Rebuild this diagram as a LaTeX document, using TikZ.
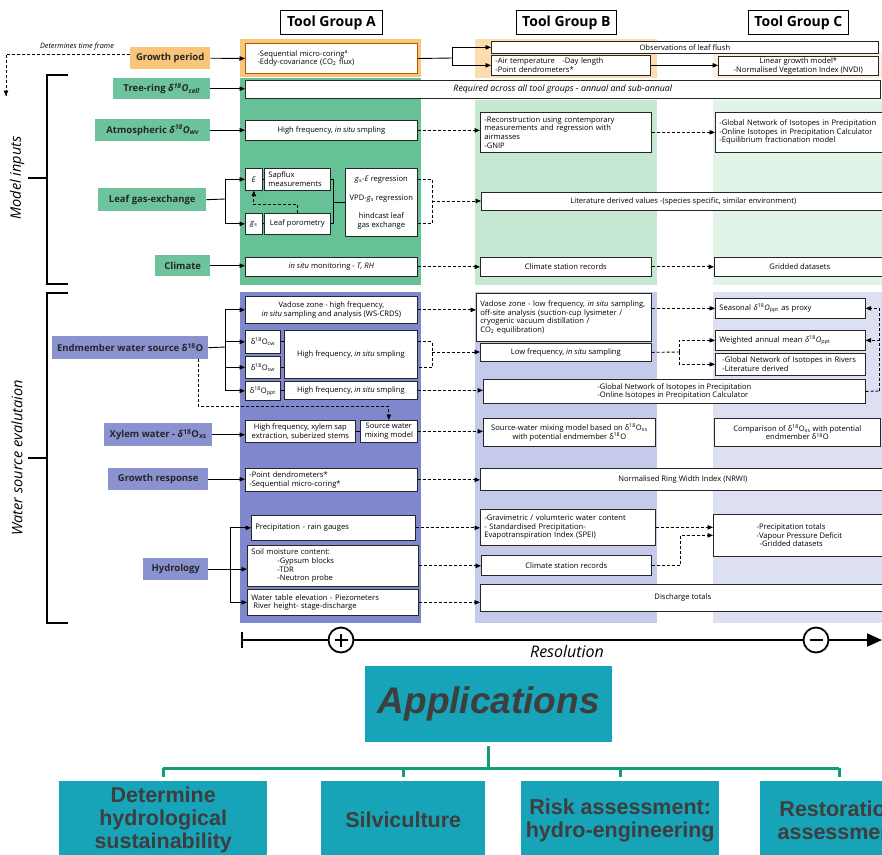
\documentclass[tikz,border=0pt]{standalone}
\usepackage{fontspec}
\setmainfont{Open Sans}
\newfontfamily\appfont{Liberation Sans}
\usetikzlibrary{arrows.meta}

\definecolor{orangeL}{HTML}{F8C57A}
\definecolor{orangeB}{HTML}{FBDDB0}
\definecolor{orangeC}{HTML}{FDEFD9}
\definecolor{greenL}{HTML}{6DC49C}
\definecolor{greenA}{HTML}{66C296}
\definecolor{greenB}{HTML}{C6E8D3}
\definecolor{greenC}{HTML}{E2F3E8}
\definecolor{blueL}{HTML}{8A92D0}
\definecolor{blueA}{HTML}{7F88CD}
\definecolor{blueB}{HTML}{C5CAEA}
\definecolor{blueC}{HTML}{DDE0F2}
\definecolor{appteal}{HTML}{17A3B8}
\definecolor{apptext}{HTML}{3E3E3E}
\definecolor{appgreen}{HTML}{12A072}

\tikzstyle{tbox} = [draw=black!85, line width=0.7pt, fill=white, rectangle, inner xsep=3pt, inner ysep=1pt, font=\fontsize{7.6}{8.6}\selectfont, align=center]
\tikzstyle{lbl} = [rectangle, inner xsep=3pt, inner ysep=1pt, text=black!85, font=\bfseries\fontsize{9.5}{11}\selectfont]
\tikzstyle{head} = [draw, line width=0.8pt, fill=white, rectangle, font=\bfseries\fontsize{14}{16}\selectfont]
\tikzstyle{side} = [rotate=90, font=\itshape\fontsize{14.5}{16}\selectfont]
\tikzstyle{ln} = [line width=0.9pt]
\tikzstyle{dln} = [line width=0.9pt, dash pattern=on 3pt off 2pt]
\tikzstyle{arr} = [line width=0.9pt, -{Triangle[length=5.5pt,width=4.5pt]}]
\tikzstyle{darr} = [arr, dash pattern=on 3pt off 2pt]
\tikzstyle{brk} = [line width=1.2pt]
\tikzstyle{axis} = [line width=2pt]
\tikzstyle{appbox} = [rectangle, fill=appteal, text=apptext, align=center, font=\appfont\bfseries\fontsize{21.5}{23}\selectfont]
\tikzstyle{conn} = [draw=appgreen, line width=3pt]

% box from its corners: [style]{name}{x1}{y1}{x2}{y2}{text}
\newcommand{\bx}[7][tbox]{\node[#1, anchor=north west, minimum width={(#5-#3)*1pt}, minimum height={(#6-#4)*1pt}] (#2) at (#3,#4) {#7};}
% same, text set flush left
\newcommand{\bxl}[7][tbox]{\node[#1, anchor=north west, align=left, text width={(#5-#3-8)*1pt}, minimum width={(#5-#3)*1pt}, minimum height={(#6-#4)*1pt}] (#2) at (#3,#4) {#7};}
\newcommand{\dO}{δ\textsuperscript{18}O}

\begin{document}
\begin{tikzpicture}[x=1pt, y=-1pt]
\useasboundingbox (0,0) rectangle (882,854);
\clip (0,0) rectangle (882,854);

% tool group columns
\fill[orangeL] (240,39) rectangle (421,77);
\fill[orangeB] (475,39) rectangle (657,78);
\fill[orangeC] (713,52) rectangle (882,78);
\fill[greenA] (240,78) rectangle (421,285);
\fill[greenB] (475,100) rectangle (657,285);
\fill[greenC] (713,100) rectangle (882,285);
\fill[blueA] (240,292) rectangle (421,623);
\fill[blueB] (475,292) rectangle (657,623);
\fill[blueC] (713,292) rectangle (882,623);

\bx[head]{hA}{280}{10}{382}{34}{Tool Group A}
\bx[head]{hB}{516}{10}{616}{34}{Tool Group B}
\bx[head]{hC}{748}{10}{848}{34}{Tool Group C}

% brackets on the left
\draw[brk] (68,75) -- (47,75) -- (47,284) -- (68,284);
\draw[brk] (28,178) -- (47,178);
\node[side] (mi) at (17,178) {Model inputs};
\draw[brk] (68,293) -- (47,293) -- (47,623) -- (68,623);
\draw[brk] (28,458) -- (47,458);
\node[side] (ws) at (17,458) {Water source evalutaion};

% model inputs
\bx[lbl, fill=orangeL]{growth}{130}{47}{210}{69}{Growth period}
\bx[lbl, fill=greenL]{tree}{113}{78}{210}{99}{Tree-ring \textit{\dO\textsubscript{cell}}}
\bx[lbl, fill=greenL]{atmo}{95}{119}{210}{141}{Atmospheric \textit{\dO\textsubscript{wv}}}
\bx[lbl, fill=greenL]{leaf}{98}{188}{206}{211}{Leaf gas-exchange}
\bx[lbl, fill=greenL]{clim}{155}{255}{210}{276}{Climate}

\bxl[tbox, draw=orange!70!black, line width=1pt]{gA}{245}{43}{417}{73}{\hspace*{8pt}-Sequential micro-coring\textsuperscript{a}\\\hspace*{8pt}-Eddy-covariance (CO\textsubscript{2} flux)}
\bx{req}{245}{80}{880}{98}{\fontsize{8.8}{10}\selectfont\itshape Required across all tool groups - annual and sub-annual}
\bx{aA}{245}{120}{417}{140}{High frequency, \textit{in situ} smpling}
\bx{eA}{245}{168}{262}{190}{\textit{E}}
\bxl{sapA}{264}{168}{330}{190}{Sapflux\\measurements}
\bx{gsA}{245}{213}{262}{234}{\textit{g}\textsubscript{s}}
\bx{porA}{264}{213}{330}{234}{Leaf porometry}
\bx{regA}{345}{168}{417}{236}{\textit{g}\textsubscript{s}-\textit{E} regression\\[11pt]VPD-\textit{g}\textsubscript{s} regression\\[9pt]hindcast leaf\\gas exchange}
\bx{cA}{245}{257}{417}{276}{\textit{in situ} monitoring - \textit{T, RH}}

\bx{obsB}{491}{41}{878}{53}{Observations of leaf flush}
\bxl{airB}{491}{55}{650}{75}{-Air temperature \ \ -Day length\\-Point dendrometers*}
\bx{linC}{718}{56}{878}{75}{Linear growth model*\\-Normalised Vegetation Index (NVDI)}
\bxl{atB}{480}{112}{651}{152}{-Reconstruction using contemporary\\measurements and regression with\\airmasses\\-GNIP}
\bxl{atC}{715}{112}{890}{152}{-Global Network of Isotopes in Precipitation\\-Online Isotopes in Precipitation Calculator\\-Equilibrium fractionation model}
\bx{litB}{481}{192}{885}{210}{Literature derived values -(species specific, similar environment)}
\bx{cB}{480}{257}{651}{276}{Climate station records}
\bx{cC}{714}{257}{885}{276}{Gridded datasets}

\draw[dln] ([yshift=4pt]growth.west) -| (6,96) coordinate (tf);
\draw[darr] (6,90) -- (tf);
\node[font=\itshape\fontsize{7.3}{8}\selectfont] (tft) at (77,47) {Determines time frame};
\draw[arr] (growth.east) -- (gA.west);
\coordinate (gsplit) at (452,58);
\draw[ln] (gA.east) -- (gsplit);
\draw[arr] (gsplit) |- (obsB.west);
\draw[arr] (gsplit) |- (airB.west);
\draw[arr] (airB.east) -- (airB.east -| linC.west);
\draw[arr] (tree.east) -- (tree.east -| req.west);
\draw[arr] (atmo.east) -- (atmo.east -| aA.west);
\draw[darr] (aA.east) -- (aA.east -| atB.west);
\draw[darr] (atB.east) -- (atB.east -| atC.west);
\coordinate (lsplit) at (225,199);
\draw[ln] (leaf.east) -- (lsplit);
\draw[arr] (lsplit) |- (eA.west);
\draw[arr] (lsplit) |- (gsA.west);
\draw[darr] (porA.north) -- ++(0,-9) -| (eA.south);
\draw[ln] (eA.east) -- (sapA.west);
\draw[ln] (gsA.east) -- (porA.west);
\draw[ln] (sapA.east) -- ++(3,0) |- (regA.west);
\draw[ln] (porA.east) -- ++(3,0) |- (regA.west);
\coordinate (rbr) at (432,201);
\draw[dln] (regA.east |- sapA.east) -| (rbr) |- (regA.east |- porA.east);
\draw[darr] (rbr) -- (rbr -| litB.west);
\draw[arr] (clim.east) -- (clim.east -| cA.west);
\draw[darr] (cA.east) -- (cA.east -| cB.west);
\draw[darr] (cB.east) -- (cB.east -| cC.west);

% water source evaluation
\bx[lbl, fill=blueL]{endm}{52}{336}{208}{359}{Endmember water source \dO}
\bx[lbl, fill=blueL]{xyl}{104}{423}{212}{446}{Xylem water - \textit{δ}\textsuperscript{18}O\textsubscript{xs}}
\bx[lbl, fill=blueL]{grow}{108}{468}{208}{490}{Growth response}
\bx[lbl, fill=blueL]{hydro}{143}{558}{208}{580}{Hydrology}

\bx{vadA}{245}{296}{417}{323}{Vadose zone - high frequency,\\\textit{in situ} sampling and analysis (WS-CRDS)}
\bx{cwA}{245}{330}{280}{353}{\dO\textsubscript{cw}}
\bx{swA}{245}{356}{280}{378}{\dO\textsubscript{sw}}
\bx{hfA}{284}{330}{417}{378}{High frequency, \textit{in situ} smpling}
\bx{ppA}{245}{381}{280}{400}{\dO\textsubscript{ppt}}
\bx{hfpA}{284}{381}{417}{399}{High frequency, \textit{in situ} smpling}
\bx{xyA}{245}{420}{355}{442}{High frequency, xylem sap\\extraction, suberized stems}
\bx{mixA}{360}{420}{417}{442}{Source water\\mixing model}
\bxl{grA}{245}{468}{417}{491}{-Point dendrometers*\\-Sequential micro-coring*}
\bxl{prA}{251}{515}{415}{540}{Precipitation - rain gauges}
\bxl{soA}{247}{545}{418}{586}{Soil moisture content:\\\hspace*{26pt}-Gypsum blocks\\\hspace*{26pt}-TDR\\\hspace*{26pt}-Neutron probe}
\bxl{wtA}{247}{589}{418}{615}{Water table elevation - Piezometers\\\hspace*{2pt}River height- stage-discharge}

\bxl{vadB}{476}{293}{651}{341}{Vadose zone - low frequency, \textit{in situ} sampling,\\off-site analysis (suction-cup lysimeter /\\cryogenic vacuum distillation /\\CO\textsubscript{2} equilibration)}
\bx{lowB}{480}{343}{651}{361}{Low frequency, \textit{in situ} sampling}
\bxl{seaC}{715}{298}{865}{318}{Seasonal \textit{δ}\textsuperscript{18}\textit{O}\textsubscript{ppt} as proxy}
\bxl{weiC}{715}{330}{865}{350}{Weighted annual mean \textit{δ}\textsuperscript{18}\textit{O}\textsubscript{ppt}}
\bxl{rivC}{715}{353}{865}{375}{\hspace*{3pt}-Global Network of Isotopes in Rivers\\\hspace*{3pt}-Literature derived}
\bx[tbox, align=left]{gnB}{483}{379}{865}{403}{-Global Network of Isotopes in Precipitation\\-Online Isotopes in Precipitation Calculator}
\bx{xyB}{483}{418}{655}{446}{Source-water mixing model based on \dO\textsubscript{xs}\\with potential endmember \dO}
\bx{xyC}{714}{418}{880}{446}{Comparison of \dO\textsubscript{xs} with potential\\endmember \dO}
\bx{nrB}{480}{468}{885}{490}{Normalised Ring Width Index (NRWI)}
\bxl{hyB}{480}{509}{655}{545}{-Gravimetric / volumteric water content\\- Standardised Precipitation-\\Evapotranspiration Index (SPEI)}
\bx{csB}{481}{555}{651}{575}{Climate station records}
\bx{dsB}{480}{584}{885}{611}{Discharge totals}
\bx[tbox, align=left]{hyC}{713}{514}{885}{556}{-Precipitation totals\\-Vapour Pressure Deficit\\\hspace*{3pt}-Gridded datasets}

\coordinate (esplit) at (225,347);
\draw[ln] (endm.east) -- (esplit);
\draw[arr] (esplit) |- (vadA.west);
\draw[arr] (esplit) |- (cwA.west);
\draw[arr] (esplit) |- (swA.west);
\draw[arr] (esplit) |- (ppA.west);
\draw[ln] (cwA.east) -- (cwA.east -| hfA.west);
\draw[ln] (swA.east) -- (swA.east -| hfA.west);
\draw[ln] (ppA.east) -- (ppA.east -| hfpA.west);
\draw[darr] ([xshift=-10pt]endm.south east) -- ++(0,47) -| (mixA.north);
\draw[darr] (vadA.east) -- (vadA.east -| vadB.west);
\coordinate (hbr) at (432,352);
\draw[dln] (hfA.east |- cwA.east) -| (hbr) |- (hfA.east |- swA.east);
\draw[darr] (hbr) -- (hbr -| lowB.west);
\draw[darr] (hfpA.east) -- (hfpA.east -| gnB.west);
\draw[darr] (seaC.west -| vadB.east) -- (seaC.west);
\coordinate (lsp) at (679,352);
\draw[dln] (lowB.east) -- (lsp);
\draw[darr] (lsp) |- (weiC.west);
\draw[darr] (lsp) |- (rivC.west);
\coordinate (rside) at (879,391);
\draw[dln] (gnB.east) -- (rside);
\draw[darr] (rside) |- (seaC.east);
\draw[darr] (rside) |- (weiC.east);
\draw[arr] (xyl.east) -- (xyl.east -| xyA.west);
\draw[ln] (xyA.east) -- (mixA.west);
\draw[darr] (mixA.east) -- (mixA.east -| xyB.west);
\draw[arr] (grow.east) -- (grow.east -| grA.west);
\draw[darr] (grA.east) -- (grA.east -| nrB.west);
\coordinate (hsplit) at (230,569);
\draw[arr] (hydro.east) -- (hydro.east -| soA.west);
\draw[arr] (hsplit) |- (prA.west);
\draw[arr] (hsplit) |- (wtA.west);
\draw[darr] (prA.east) -- (prA.east -| hyB.west);
\draw[darr] (soA.east) -- (soA.east -| csB.west);
\draw[darr, line width=0.5pt] (wtA.east) -- (wtA.east -| dsB.west);
\draw[darr] (hyB.east) -- (hyB.east -| hyC.west);
\draw[darr] (csB.east) -- ++(29,0) |- (hyC.west);

% resolution axis
\coordinate (r0) at (242,640);
\coordinate (rend) at (882,640);
\node[circle, draw, fill=white, line width=1.8pt, minimum size=25pt, inner sep=0pt,
  path picture={\draw[line width=2.6pt] ([xshift=-6.5pt]path picture bounding box.center) -- ([xshift=6.5pt]path picture bounding box.center);
                \draw[line width=2.6pt] ([yshift=-6.5pt]path picture bounding box.center) -- ([yshift=6.5pt]path picture bounding box.center);}] (plus) at (341,640) {};
\node[circle, draw, fill=white, line width=1.8pt, minimum size=25pt, inner sep=0pt,
  path picture={\draw[line width=2.6pt] ([xshift=-6.5pt]path picture bounding box.center) -- ([xshift=6.5pt]path picture bounding box.center);}] (minus) at (816,640) {};
\draw[axis] (242,632) -- (242,648);
\draw[axis] (r0) -- (plus);
\draw[axis] (plus) -- (minus);
\draw[axis, -{Triangle[length=15pt,width=13pt]}] (minus) -- (rend);
\node[font=\itshape\fontsize{16}{18}\selectfont] (res) at (567,651) {Resolution};

% applications
\bx[appbox, font=\appfont\bfseries\itshape\fontsize{37}{40}\selectfont]{app}{365}{666}{612}{742}{Applications}
\bx[appbox]{ap1}{59}{781}{267}{859}{Determine\\hydrological\\sustainability}
\bx[appbox]{ap2}{321}{781}{485}{859}{Silviculture}
\bx[appbox]{ap3}{521}{781}{719}{859}{Risk assessment:\\hydro-engineering}
\bx[appbox]{ap4}{760}{781}{918}{859}{Restoration\\assessment}
\coordinate (bus) at (489,768);
\draw[conn, shorten <=4pt] (app.south) -- (app.south |- bus);
\draw[conn] (ap1.north |- bus) -- (ap4.north |- bus);
\draw[conn, shorten >=4pt] (ap1.north |- bus) -- (ap1.north);
\draw[conn, shorten >=4pt] (ap2.north |- bus) -- (ap2.north);
\draw[conn, shorten >=4pt] (ap3.north |- bus) -- (ap3.north);
\draw[conn, shorten >=4pt] (ap4.north |- bus) -- (ap4.north);
\end{tikzpicture}
\end{document}
